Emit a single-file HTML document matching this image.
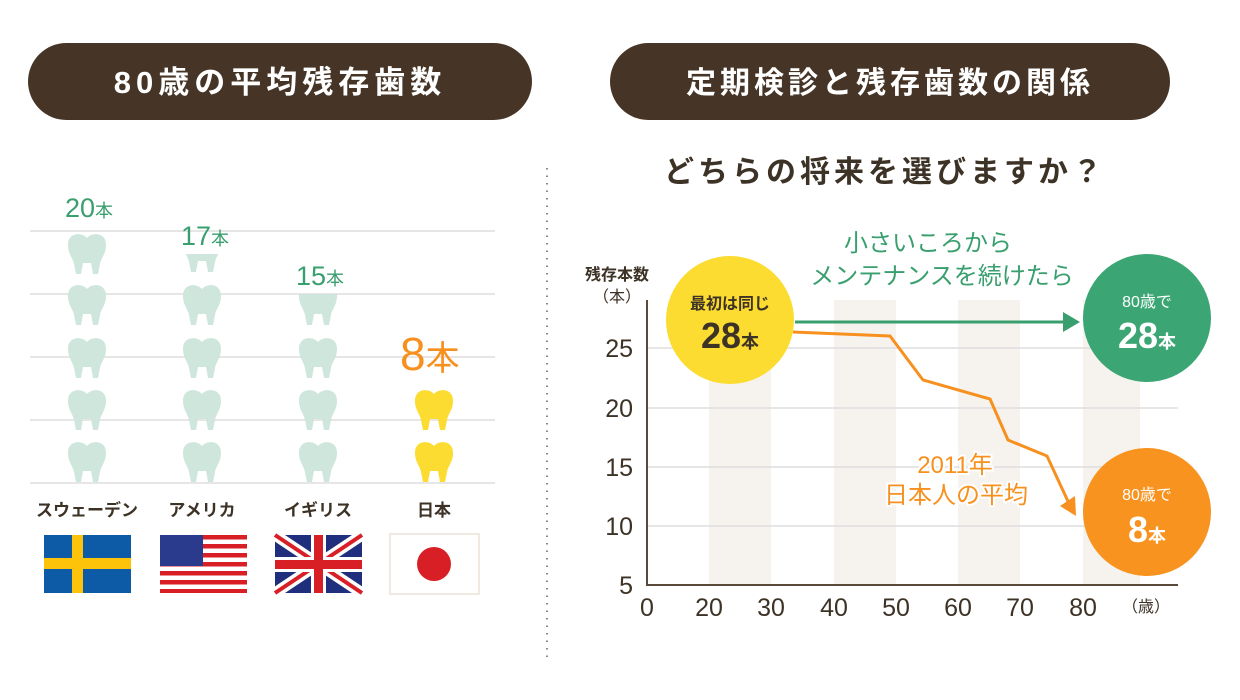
<!DOCTYPE html>
<html><head><meta charset="utf-8"><style>
html,body{margin:0;padding:0;background:#fff;}
svg{display:block;font-family:"Liberation Sans","Noto Sans CJK JP",sans-serif;}
</style></head><body>
<svg width="1240" height="700" viewBox="0 0 1240 700" xmlns="http://www.w3.org/2000/svg">
<defs>
<path id="tooth" d="M19 6 C14 0 0 0 0 13 C0 22 5 26 6 32 L8 42 L13 42 L15 31 L23 31 L25 42 L30 42 L32 32 C33 26 38 22 38 13 C38 0 24 0 19 6Z"/>
<clipPath id="cUS" clipPathUnits="userSpaceOnUse"><rect x="150" y="254" width="100" height="30"/></clipPath>
<clipPath id="cUK" clipPathUnits="userSpaceOnUse"><rect x="270" y="294" width="100" height="40"/></clipPath>
</defs>
<!-- headers -->
<rect x="28" y="43" width="504" height="77" rx="38.5" fill="#463526"/>
<text x="280" y="93" text-anchor="middle" font-size="31" font-weight="bold" fill="#fff" letter-spacing="5">80歳の平均残存歯数</text>
<rect x="610" y="43" width="560" height="77" rx="38.5" fill="#463526"/>
<text x="890" y="93" text-anchor="middle" font-size="30" font-weight="bold" fill="#fff" letter-spacing="4">定期検診と残存歯数の関係</text>
<line x1="547" y1="168" x2="547" y2="660" stroke="#888" stroke-width="2" stroke-dasharray="1.5 6"/>
<!-- left grid -->
<g stroke="#ddd" stroke-width="1.5">
<line x1="30" y1="231" x2="495" y2="231"/><line x1="30" y1="294" x2="495" y2="294"/>
<line x1="30" y1="357" x2="495" y2="357"/><line x1="30" y1="420" x2="495" y2="420"/>
<line x1="30" y1="483" x2="495" y2="483"/></g>
<g fill="#cfe6dc">
<use href="#tooth" x="68" y="232"/><use href="#tooth" x="68" y="283"/><use href="#tooth" x="68" y="336"/><use href="#tooth" x="68" y="388"/><use href="#tooth" x="68" y="440"/>
<g clip-path="url(#cUS)"><use href="#tooth" x="183" y="230"/></g><use href="#tooth" x="183" y="283"/><use href="#tooth" x="183" y="336"/><use href="#tooth" x="183" y="388"/><use href="#tooth" x="183" y="440"/>
<g clip-path="url(#cUK)"><use href="#tooth" x="299" y="283"/></g><use href="#tooth" x="299" y="336"/><use href="#tooth" x="299" y="388"/><use href="#tooth" x="299" y="440"/>
</g>
<g fill="#fcdc30"><use href="#tooth" x="415" y="388"/><use href="#tooth" x="415" y="440"/></g>
<g fill="#3a9f6f" font-size="27"><text x="65" y="217">20<tspan font-size="18">本</tspan></text>
<text x="181" y="245">17<tspan font-size="18">本</tspan></text>
<text x="296" y="285">15<tspan font-size="18">本</tspan></text></g>
<text x="400" y="370" fill="#f7901e" font-size="46">8<tspan font-size="34">本</tspan></text>
<g fill="#3d3226" font-size="17" font-weight="bold" text-anchor="middle">
<text x="87" y="516">スウェーデン</text><text x="202" y="516">アメリカ</text><text x="318" y="516">イギリス</text><text x="434" y="516">日本</text></g>
<!-- flags -->
<rect x="44" y="535" width="87" height="58" fill="#0d5ba6"/><rect x="72" y="535" width="11" height="58" fill="#fcc30a"/><rect x="44" y="558" width="87" height="11" fill="#fcc30a"/>
<g><rect x="160" y="535" width="87" height="58" fill="#fff"/>
<g fill="#d81f26"><rect x="160" y="535" width="87" height="4.5"/><rect x="160" y="544" width="87" height="4.5"/><rect x="160" y="553" width="87" height="4.5"/><rect x="160" y="562" width="87" height="4.5"/><rect x="160" y="571" width="87" height="4.5"/><rect x="160" y="580" width="87" height="4.5"/><rect x="160" y="589" width="87" height="4"/></g>
<rect x="160" y="535" width="43" height="31" fill="#2a3a8c"/></g>
<g><rect x="275" y="535" width="87" height="58" fill="#1f2f7d"/>
<path d="M275 535 L362 593 M362 535 L275 593" stroke="#fff" stroke-width="11"/>
<path d="M275 535 L362 593 M362 535 L275 593" stroke="#d81f26" stroke-width="4"/>
<rect x="311" y="535" width="15" height="58" fill="#fff"/><rect x="275" y="557" width="87" height="15" fill="#fff"/>
<rect x="314" y="535" width="9" height="58" fill="#d81f26"/><rect x="275" y="560" width="87" height="9" fill="#d81f26"/></g>
<rect x="390" y="534" width="89" height="60" fill="#fff" stroke="#efe9e1" stroke-width="2"/><circle cx="434" cy="564" r="17" fill="#d81f26"/>
<!-- right -->
<text x="885" y="182" text-anchor="middle" font-size="30" font-weight="bold" fill="#3d3226" letter-spacing="4">どちらの将来を選びますか？</text>
<g fill="#f6f3ee"><rect x="709" y="300" width="62" height="285"/><rect x="834" y="300" width="62" height="285"/><rect x="958" y="300" width="62" height="285"/><rect x="1083" y="300" width="57" height="285"/></g>
<g stroke="#ddd" stroke-width="1.5"><line x1="647" y1="348" x2="1178" y2="348"/><line x1="647" y1="408" x2="1178" y2="408"/><line x1="647" y1="467" x2="1178" y2="467"/><line x1="647" y1="526" x2="1178" y2="526"/></g>
<path d="M647 300 V585 H1178" fill="none" stroke="#5a4a3a" stroke-width="2"/>
<g fill="#3d3226" font-size="25" text-anchor="end"><text x="633" y="357">25</text><text x="633" y="417">20</text><text x="633" y="476">15</text><text x="633" y="535">10</text><text x="633" y="594">5</text></g>
<g fill="#3d3226" font-size="25" text-anchor="middle"><text x="647" y="616">0</text><text x="709" y="616">20</text><text x="771" y="616">30</text><text x="834" y="616">40</text><text x="896" y="616">50</text><text x="958" y="616">60</text><text x="1020" y="616">70</text><text x="1083" y="616">80</text></g>
<text x="1146" y="612" text-anchor="middle" font-size="16" fill="#3d3226">（歳）</text>
<text x="617" y="280" text-anchor="middle" font-size="16" font-weight="bold" fill="#3d3226">残存本数</text>
<text x="617" y="302" text-anchor="middle" font-size="16" fill="#3d3226">（本）</text>
<text x="928" y="251" text-anchor="middle" font-size="24" fill="#3a9f6f">小さいころから</text>
<text x="942" y="284" text-anchor="middle" font-size="24" fill="#3a9f6f">メンテナンスを続けたら</text>
<line x1="795" y1="322" x2="1065" y2="322" stroke="#3a9f6f" stroke-width="3"/><path d="M1063 312 L1080 322 L1063 332Z" fill="#3a9f6f"/>
<polyline points="793,332 890,336 923,380 990,399 1008,440 1047,456 1072,510" fill="none" stroke="#f7901e" stroke-width="3"/>
<path d="M1060 506 L1076 516 L1075 496Z" fill="#f7901e"/>
<g fill="#f7901e" font-size="24" text-anchor="middle" stroke="#fff" stroke-width="4" paint-order="stroke"><text x="955" y="473">2011年</text><text x="956" y="503">日本人の平均</text></g>
<circle cx="730" cy="320" r="64" fill="#fcdc30"/>
<text x="730" y="309" text-anchor="middle" font-size="16" font-weight="bold" fill="#3d3226">最初は同じ</text>
<text x="730" y="348" text-anchor="middle" font-size="36" font-weight="bold" fill="#3d3226">28<tspan font-size="18">本</tspan></text>
<circle cx="1147" cy="318" r="64" fill="#3ba674"/>
<text x="1147" y="307" text-anchor="middle" font-size="16" fill="#fff">80歳で</text>
<text x="1147" y="348" text-anchor="middle" font-size="36" font-weight="bold" fill="#fff">28<tspan font-size="18">本</tspan></text>
<circle cx="1147" cy="512" r="64" fill="#f7931e"/>
<text x="1147" y="500" text-anchor="middle" font-size="16" fill="#fff">80歳で</text>
<text x="1147" y="542" text-anchor="middle" font-size="36" font-weight="bold" fill="#fff">8<tspan font-size="18">本</tspan></text>
</svg>
</body></html>
